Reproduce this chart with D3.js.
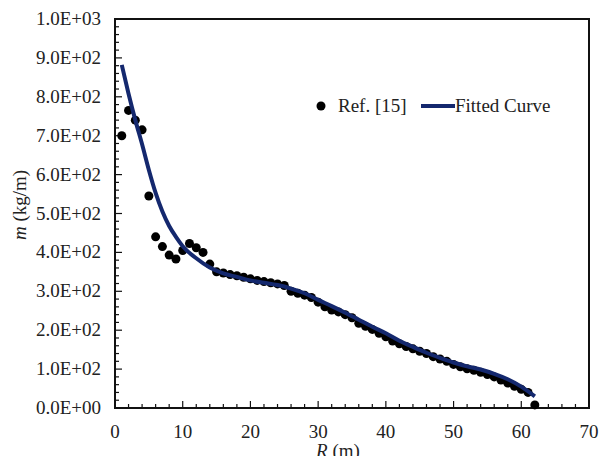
<!DOCTYPE html>
<html>
<head>
<meta charset="utf-8">
<script src="https://cdn.jsdelivr.net/npm/d3@7"></script>
<style>
  html, body { margin: 0; padding: 0; background: #fff; }
  svg { display: block; }
  text { font-family: "Liberation Serif", "Times New Roman", serif; fill: #222; }
</style>
</head>
<body>
<svg id="chart" width="599" height="456"></svg>
<script>
// Measured mass per unit length along the blade (Ref. [15])
const refR = [1,2,3,4,5,6,7,8,9,10,11,12,13,14,15,16,17,18,19,20,21,22,23,24,25,26,27,28,29,30,
  31,32,33,34,35,36,37,38,39,40,41,42,43,44,45,46,47,48,49,50,51,52,53,54,55,56,57,58,59,60,61,62];
const refM = [700,765,740,715,545,440,415,393,383,405,423,412,400,370,350,347,343,340,336,332,
  328,325,322,319,315,300,295,290,284,272,260,252,247,240,232,218,210,202,192,183,
  172,165,158,152,146,140,132,126,120,112,106,101,97,92,86,80,72,64,56,48,40,8];

// Fitted curve samples
const fitR = [1,2,3,4,5,6,7,8,9,10,12,14,16,18,20,22,24,26,28,30,32,34,36,38,40,42,44,46,48,50,52,54,56,58,60,62];
const fitM = [882,808,740,678,612,553,505,468,440,416,385,361,346,337,328,322,316,307,295,278,
  262,245,227,209,192,173,157,142,129,117,107,99,88,74,55,30];

const xTicks = [0,10,20,30,40,50,60,70];
const yTicks = [0,100,200,300,400,500,600,700,800,900,1000];
const legendLabels = ["Ref. [15]", "Fitted Curve"];

const svg = d3.select("#chart");
const plotL = 115, plotR = 589, plotT = 19, plotB = 408;
const fs = 19;

const x = d3.scaleLinear().domain([0, 70]).range([plotL, plotR]);
const y = d3.scaleLinear().domain([0, 1000]).range([plotB, plotT]);

// Scientific labels such as 1.0E+03
function sci(v) {
  if (v === 0) return "0.0E+00";
  const e = Math.floor(Math.log10(Math.abs(v)));
  const m = v / Math.pow(10, e);
  const sign = e < 0 ? "-" : "+";
  return m.toFixed(1) + "E" + sign + String(Math.abs(e)).padStart(2, "0");
}

// Minor ticks (inside)
const xMinor = d3.range(0, 70.01, 2).filter(v => v % 10 !== 0);
const yMinor = d3.range(0, 1000.01, 20).filter(v => v % 100 !== 0);

const g = svg.append("g");

g.selectAll("line.xminor").data(xMinor).join("line")
  .attr("x1", d => x(d)).attr("x2", d => x(d))
  .attr("y1", plotB).attr("y2", plotB - 4)
  .attr("stroke", "#111").attr("stroke-width", 1.2);
g.selectAll("line.xmajor").data(xTicks).join("line")
  .attr("x1", d => x(d)).attr("x2", d => x(d))
  .attr("y1", plotB).attr("y2", plotB - 7)
  .attr("stroke", "#111").attr("stroke-width", 1.2);
g.selectAll("line.yminor").data(yMinor).join("line")
  .attr("x1", plotL).attr("x2", plotL + 4)
  .attr("y1", d => y(d)).attr("y2", d => y(d))
  .attr("stroke", "#111").attr("stroke-width", 1.2);
g.selectAll("line.ymajor").data(yTicks).join("line")
  .attr("x1", plotL).attr("x2", plotL + 7)
  .attr("y1", d => y(d)).attr("y2", d => y(d))
  .attr("stroke", "#111").attr("stroke-width", 1.2);

// Frame
g.append("rect")
  .attr("x", plotL).attr("y", plotT)
  .attr("width", plotR - plotL).attr("height", plotB - plotT)
  .attr("fill", "none").attr("stroke", "#111").attr("stroke-width", 2);

// Tick labels
g.selectAll("text.xl").data(xTicks).join("text")
  .attr("x", d => x(d)).attr("y", plotB + 30)
  .attr("text-anchor", "middle").attr("font-size", fs)
  .text(d => d);
g.selectAll("text.yl").data(yTicks).join("text")
  .attr("x", plotL - 14).attr("y", d => y(d) + 6)
  .attr("text-anchor", "end").attr("font-size", fs)
  .text(d => sci(d));

// Axis titles
const xt = svg.append("text").attr("x", 338).attr("y", 457)
  .attr("text-anchor", "middle").attr("font-size", fs);
xt.append("tspan").attr("font-style", "italic").text("R");
xt.append("tspan").text(" (m)");

const yt = svg.append("text")
  .attr("transform", "translate(26,205) rotate(-90)")
  .attr("text-anchor", "middle").attr("font-size", fs);
yt.append("tspan").attr("font-style", "italic").text("m");
yt.append("tspan").text(" (kg/m)");

// Measured points
const pts = refR.map((r, i) => ({ r, m: refM[i] }));
svg.append("g").selectAll("circle").data(pts).join("circle")
  .attr("cx", d => x(d.r)).attr("cy", d => y(d.m))
  .attr("r", 4.5).attr("fill", "#000");

// Fitted curve
const fit = fitR.map((r, i) => ({ r, m: fitM[i] }));
svg.append("path").datum(fit)
  .attr("fill", "none").attr("stroke", "#14286e").attr("stroke-width", 4)
  .attr("d", d3.line().x(d => x(d.r)).y(d => y(d.m)).curve(d3.curveMonotoneX));

// Legend
const lg = svg.append("g");
lg.append("circle").attr("cx", 321).attr("cy", 106).attr("r", 4.5).attr("fill", "#000");
lg.append("text").attr("x", 338).attr("y", 112).attr("font-size", fs).text(legendLabels[0]);
lg.append("line").attr("x1", 421).attr("x2", 455).attr("y1", 106).attr("y2", 106)
  .attr("stroke", "#14286e").attr("stroke-width", 4);
lg.append("text").attr("x", 455).attr("y", 112).attr("font-size", fs).text(legendLabels[1]);
</script>
</body>
</html>
